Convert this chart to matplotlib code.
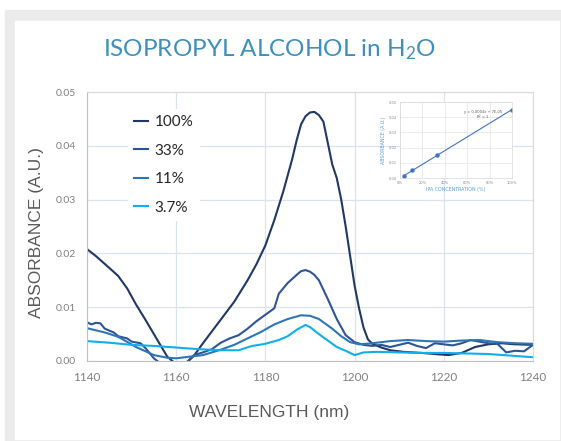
import numpy as np
import matplotlib
matplotlib.use('Agg')
import matplotlib.pyplot as plt
from matplotlib.patches import Rectangle

plt.rcParams['mathtext.fontset'] = 'custom'
plt.rcParams['mathtext.rm'] = 'Lato'

# spectra (wavelength nm, absorbance A.U.)
wl_100 = [1140, 1142, 1145, 1147, 1149, 1151, 1153, 1155, 1157, 1158, 1160, 1162, 1164,
          1166, 1168, 1171, 1173, 1176, 1178, 1180, 1182, 1184, 1185, 1186, 1187, 1188,
          1189, 1190, 1191, 1192, 1193, 1194, 1195, 1196, 1197, 1198, 1199, 1200, 1201,
          1202, 1203, 1204, 1206, 1208, 1211, 1215, 1218, 1221, 1224, 1227, 1230, 1233,
          1236, 1240]
abs_100 = [0.0208, 0.0195, 0.0173, 0.0158, 0.0135, 0.0105, 0.0078, 0.0050, 0.0022, 0.0008,
           -0.0006, -0.0006, 0.0010, 0.0033, 0.0055, 0.0088, 0.0110, 0.0150, 0.0180, 0.0215,
           0.0262, 0.0315, 0.0345, 0.0375, 0.0410, 0.0440, 0.0455, 0.0462, 0.0463, 0.0457,
           0.0445, 0.0405, 0.0365, 0.0340, 0.0300, 0.0250, 0.0195, 0.0140, 0.0098, 0.0062,
           0.0040, 0.0032, 0.0025, 0.0020, 0.0017, 0.0015, 0.0013, 0.0011, 0.0015, 0.0026,
           0.0031, 0.0033, 0.0031, 0.0030]

wl_33 = [1140, 1141, 1142, 1143, 1144, 1146, 1147, 1149, 1150, 1152, 1153, 1155, 1157,
         1160, 1162, 1164, 1166, 1168, 1170, 1172, 1174, 1176, 1178, 1180, 1182, 1183,
         1185, 1187, 1188, 1189, 1190, 1191, 1192, 1194, 1196, 1198, 1200, 1202, 1204,
         1206, 1208, 1210, 1212, 1214, 1216, 1218, 1220, 1222, 1224, 1226, 1228, 1230,
         1232, 1234, 1236, 1238, 1240]
abs_33 = [0.0072, 0.0068, 0.0071, 0.0070, 0.0060, 0.0053, 0.0046, 0.0042, 0.0036, 0.0033,
          0.0025, 0.0005, -0.0008, -0.0012, -0.0005, 0.0011, 0.0016, 0.0022, 0.0034, 0.0042,
          0.0048, 0.0060, 0.0074, 0.0086, 0.0098, 0.0125, 0.0145, 0.0160, 0.0167, 0.0169,
          0.0166, 0.0160, 0.0150, 0.0115, 0.0078, 0.0048, 0.0035, 0.0030, 0.0028, 0.0030,
          0.0026, 0.0030, 0.0034, 0.0028, 0.0024, 0.0033, 0.0031, 0.0029, 0.0033, 0.0039,
          0.0036, 0.0033, 0.0032, 0.0016, 0.0019, 0.0018, 0.0030]

wl_11 = [1140, 1144, 1147, 1151, 1155, 1158, 1160, 1163, 1166, 1170, 1173, 1176, 1179,
         1182, 1185, 1188, 1190, 1192, 1195, 1197, 1199, 1201, 1204, 1208, 1212, 1216,
         1220, 1224, 1228, 1232, 1236, 1240]
abs_11 = [0.0061, 0.0053, 0.0045, 0.0026, 0.0011, 0.0006, 0.0005, 0.0008, 0.0011, 0.0021,
          0.0030, 0.0042, 0.0054, 0.0068, 0.0078, 0.0085, 0.0084, 0.0078, 0.0060, 0.0046,
          0.0035, 0.0031, 0.0033, 0.0037, 0.0039, 0.0037, 0.0036, 0.0038, 0.0039, 0.0035,
          0.0033, 0.0032]

wl_37 = [1140, 1145, 1150, 1155, 1160, 1165, 1170, 1174, 1177, 1180, 1183, 1185, 1187,
         1189, 1190, 1192, 1194, 1196, 1198, 1200, 1202, 1205, 1210, 1215, 1220, 1225,
         1230, 1235, 1240]
abs_37 = [0.0037, 0.0034, 0.0030, 0.0028, 0.0025, 0.0022, 0.0020, 0.0020, 0.0028, 0.0032,
          0.0039, 0.0046, 0.0058, 0.0067, 0.0063, 0.0050, 0.0038, 0.0026, 0.0019, 0.0011,
          0.0016, 0.0017, 0.0016, 0.0015, 0.0015, 0.0014, 0.0013, 0.0010, 0.0007]

labels = ['100%', '33%', '11%', '3.7%']
colors = ['#1F3864', '#2F5496', '#2E75B6', '#12AEEB']

# inset: peak absorbance vs concentration
conc = [3.7, 11, 33, 100]
peak = [0.0015, 0.0050, 0.0149, 0.0450]

fig = plt.figure(figsize=(5.61, 4.41), dpi=100)
W, H = 561.0, 441.0
# grey card frame
fig.patches.append(Rectangle((5/W, 0), 1, 431/H, transform=fig.transFigure,
                             color='#ebebeb', zorder=-10))
fig.patches.append(Rectangle((15/W, 2/H), 544/W, 418/H, transform=fig.transFigure,
                             color='white', zorder=-9))

ax = fig.add_axes((87/W, 80/H, 446/W, 269/H))
series = [(wl_100, abs_100), (wl_33, abs_33), (wl_11, abs_11), (wl_37, abs_37)]
for (x, y), lab, c in zip(series, labels, colors):
    ax.plot(x, y, color=c, lw=1.5, label=lab, solid_joinstyle='round')

ax.set_xlim(1140, 1240)
ax.set_ylim(0, 0.05)
ax.set_xticks(np.arange(1140, 1241, 20))
ax.set_yticks(np.arange(0, 0.051, 0.01))
ax.yaxis.set_major_formatter(matplotlib.ticker.FormatStrFormatter('%.2f'))
ax.grid(True, color='#dce3ef', lw=0.9)
ax.set_axisbelow(True)
for s in ax.spines.values():
    s.set_color('#d9d9d9')
ax.spines['left'].set_color('#bfbfbf')
ax.spines['bottom'].set_color('#bfbfbf')
ax.tick_params(length=0, labelsize=7.5, labelcolor='#7f7f7f', pad=8)
for t in ax.get_xticklabels() + ax.get_yticklabels():
    t.set_family('Lato')
ax.tick_params(axis='x', labelsize=8.5)

leg = ax.legend(loc='upper left', bbox_to_anchor=(0.075, 0.965), frameon=True,
                edgecolor='none', facecolor='white', framealpha=1,
                handlelength=0.9, handletextpad=0.45, labelspacing=0.95,
                prop={'family': 'Lato', 'size': 11})
for t in leg.get_texts():
    t.set_color('#262626')

fig.text(269/W, 1 - 50/H, r'ISOPROPYL ALCOHOL in H$\mathregular{_2}$O', ha='center',
         va='center', fontsize=17.5, color='#3d8fbd', family='Lato')
fig.text(37/W, 1 - 233/H, 'ABSORBANCE (A.U.)', rotation=90, ha='center', va='center',
         fontsize=12.5, color='#595959', family='Liberation Sans')
fig.text(269/W, 1 - 412/H, 'WAVELENGTH (nm)', ha='center', va='center',
         fontsize=12.5, color='#595959', family='Liberation Sans')

# inset calibration plot
ins = fig.add_axes((400/W, 263/H, 112/W, 76/H))
ins.plot(conc, peak, 'o', color='#4472C4', ms=2.2)
k, b = np.polyfit(conc, peak, 1)
xf = np.array([conc[0], conc[-1]])
ins.plot(xf, k * xf + b, color='#4472C4', lw=0.8)
ins.set_xlim(0, 100)
ins.set_ylim(0, 0.05)
ins.set_xticks(np.arange(0, 101, 20))
ins.set_xticklabels(['0%', '20%', '40%', '60%', '80%', '100%'])
ins.set_yticks(np.arange(0, 0.051, 0.01))
ins.yaxis.set_major_formatter(matplotlib.ticker.FormatStrFormatter('%.2f'))
ins.grid(True, color='#e3e3e3', lw=0.5)
ins.set_axisbelow(True)
for s in ins.spines.values():
    s.set_color('#d9d9d9')
    s.set_linewidth(0.5)
ins.tick_params(length=0, labelsize=2.6, labelcolor='#8c8c8c', pad=2)
ins.set_xlabel('IPA CONCENTRATION (%)', fontsize=3.4, color='#5b9bd5', labelpad=1.5)
ins.set_ylabel('ABSORBANCE (A.U.)', fontsize=3.4, color='#5b9bd5', labelpad=2)
ins.text(0.74, 0.86, 'y = 0.0004x + 7E-05', transform=ins.transAxes, fontsize=2.6,
         color='#595959', ha='center')
ins.text(0.74, 0.78, r'R$^2$ = 1', transform=ins.transAxes, fontsize=2.6,
         color='#595959', ha='center')

fig.savefig('out.png', dpi=100)
